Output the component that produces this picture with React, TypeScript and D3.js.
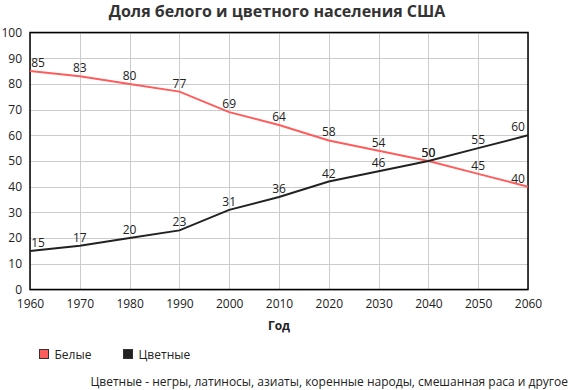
import React, { useEffect, useRef } from "react";
import * as d3 from "d3";

const years = [1960, 1970, 1980, 1990, 2000, 2010, 2020, 2030, 2040, 2050, 2060];
const white = [85, 83, 80, 77, 69, 64, 58, 54, 50, 45, 40];
const colored = [15, 17, 20, 23, 31, 36, 42, 46, 50, 55, 60];
const yTicks = [0, 10, 20, 30, 40, 50, 60, 70, 80, 90, 100];

const seriesNames = ["Белые", "Цветные"];
const seriesColors = ["#ff5c5c", "#222222"];

const App: React.FC = () => {
  const svgRef = useRef<SVGSVGElement | null>(null);

  useEffect(() => {
    if (!svgRef.current) return;
    document.body.style.margin = "0";
    const width = 571;
    const height = 390;
    const marginLeft = 30;
    const marginRight = 43;
    const marginTop = 32.5;
    const marginBottom = 100.5;
    const font = "'Open Sans', sans-serif";

    const svg = d3.select(svgRef.current);
    svg.selectAll("*").remove();
    svg.attr("width", width).attr("height", height).style("display", "block")
      .attr("font-family", font);

    const x = d3.scaleLinear().domain([1960, 2060]).range([marginLeft, width - marginRight]);
    const y = d3.scaleLinear().domain([0, 100]).range([height - marginBottom, marginTop]);

    // Title
    svg.append("text")
      .attr("x", 277).attr("y", 17)
      .attr("text-anchor", "middle")
      .attr("font-size", 16).attr("font-weight", "bold").attr("fill", "#333")
      .text("Доля белого и цветного населения США");

    // Grid
    const grid = svg.append("g").attr("stroke", "#cccccc").attr("stroke-width", 1);
    grid.selectAll("line.h").data(yTicks).join("line")
      .attr("x1", x(1960)).attr("x2", x(2060))
      .attr("y1", (d) => Math.round(y(d)) + 0.5).attr("y2", (d) => Math.round(y(d)) + 0.5);
    grid.selectAll("line.v").data(years).join("line")
      .attr("y1", y(0)).attr("y2", y(100))
      .attr("x1", (d) => Math.round(x(d)) + 0.5).attr("x2", (d) => Math.round(x(d)) + 0.5);

    // Axes
    const xAxis = svg.append("g")
      .attr("transform", `translate(0,${y(0)})`)
      .call(d3.axisBottom(x).tickValues(years).tickFormat(d3.format("d")).tickSize(0).tickPadding(10));
    xAxis.select(".domain").remove();
    xAxis.selectAll("text").attr("font-size", 12).attr("fill", "#222").attr("font-family", font);

    const yAxis = svg.append("g")
      .attr("transform", `translate(${marginLeft},0)`)
      .call(d3.axisLeft(y).tickValues(yTicks).tickSize(0).tickPadding(8));
    yAxis.select(".domain").remove();
    yAxis.selectAll("text").attr("font-size", 12).attr("fill", "#222").attr("font-family", font);

    // Frame
    svg.append("rect")
      .attr("x", x(1960)).attr("y", y(100))
      .attr("width", x(2060) - x(1960)).attr("height", y(0) - y(100))
      .attr("fill", "none").attr("stroke", "#000").attr("stroke-width", 1.5);

    // Axis title
    svg.append("text")
      .attr("x", 279).attr("y", 330)
      .attr("text-anchor", "middle")
      .attr("font-size", 12).attr("font-weight", "bold").attr("fill", "#222")
      .text("Год");

    // Lines
    const line = d3.line<number>()
      .x((_, i) => x(years[i]))
      .y((d) => y(d));

    [white, colored].forEach((vals, si) => {
      svg.append("path")
        .datum(vals)
        .attr("fill", "none")
        .attr("stroke", seriesColors[si])
        .attr("stroke-width", 2)
        .attr("d", line);

      svg.append("g").selectAll("text").data(vals).join("text")
        .attr("x", (_, i) => Math.max(x(1960) + 8, Math.min(x(2060) - 10, x(years[i]))))
        .attr("y", (d) => y(d) - 4)
        .attr("text-anchor", "middle")
        .attr("font-size", 12).attr("fill", "#222")
        .text((d) => d);
    });

    // Legend
    const legend = svg.append("g");
    const lx = [39.5, 123.5];
    seriesNames.forEach((name, i) => {
      legend.append("rect")
        .attr("x", lx[i]).attr("y", 349.5).attr("width", 9).attr("height", 9)
        .attr("fill", seriesColors[i]).attr("stroke", "#333").attr("stroke-width", 1);
      legend.append("text")
        .attr("x", lx[i] + 15).attr("y", 359)
        .attr("font-size", 12).attr("fill", "#222")
        .text(name);
    });

    // Footnote
    svg.append("text")
      .attr("x", 568).attr("y", 386)
      .attr("text-anchor", "end")
      .attr("font-size", 12).attr("fill", "#222")
      .text("Цветные - негры, латиносы, азиаты, коренные народы, смешанная раса и другое");
  }, []);

  return <svg ref={svgRef}></svg>;
};

export default App;
